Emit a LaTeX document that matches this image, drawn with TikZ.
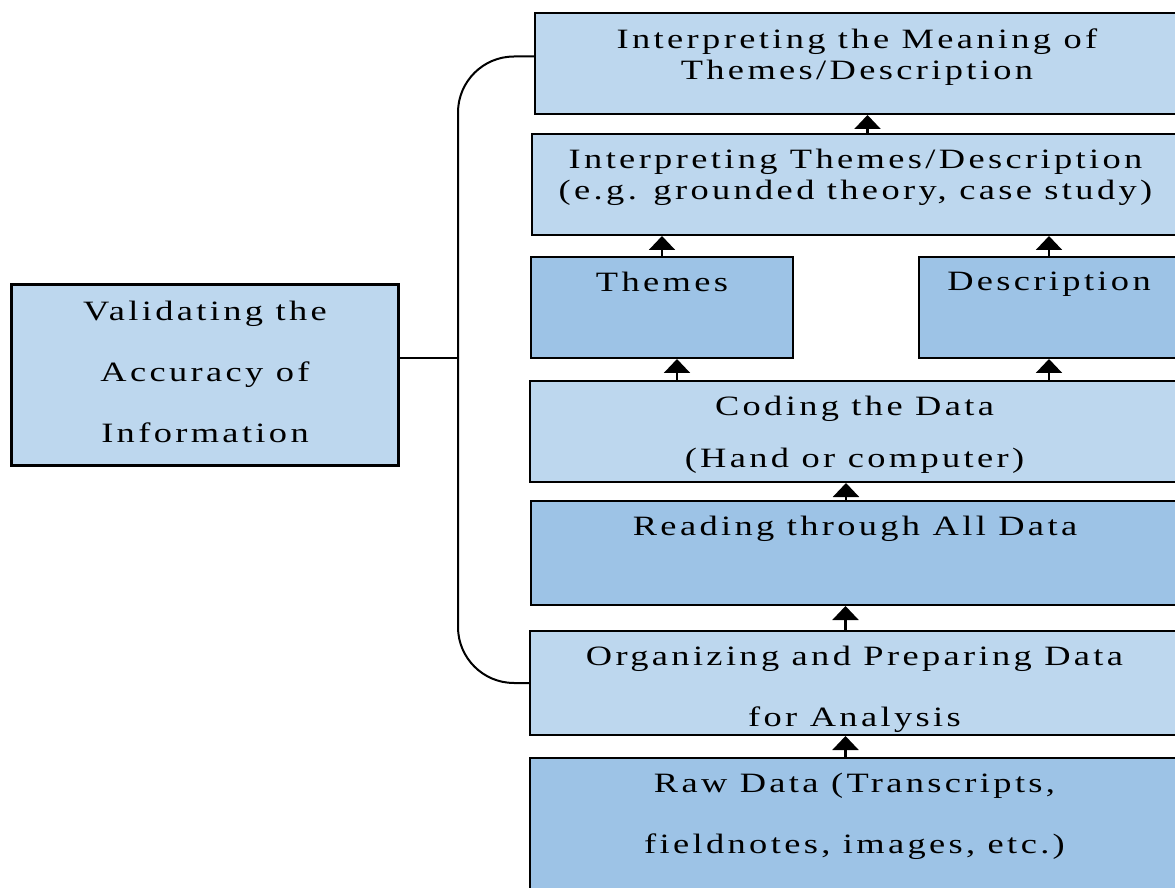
\documentclass[tikz,border=0pt]{standalone}
\usepackage{fontspec}
\setmainfont{Liberation Serif}[FakeStretch=1.3,LetterSpace=12]
\usepackage{tikz}
\usetikzlibrary{positioning,arrows.meta}
\definecolor{paleblue}{HTML}{BDD7EE}
\definecolor{midblue}{HTML}{9DC3E6}

\begin{document}
\begin{tikzpicture}[x=0.5pt,y=-0.5pt,
  box/.style={draw=black,line width=1pt,anchor=north west,inner sep=0pt,minimum height=50.5pt},
  palebox/.style={box,fill=paleblue},
  midbox/.style={box,fill=midblue},
  lbl/.style={align=center,inner sep=0pt,font=\fontsize{14}{15.5}\selectfont},
  arr/.style={-{Triangle[width=13pt,length=7pt]},line width=1.1pt},
  link/.style={line width=1pt}]
\useasboundingbox (0,0) rectangle (1175,888);

% the steps, bottom to top
\node[midbox,minimum width=324.5pt,minimum height=75pt] (raw) at (529,757) {};
\node[palebox,minimum width=324.5pt,minimum height=52pt] (organ) at (529,630) {};
\node[midbox,minimum width=324pt,minimum height=52pt] (reading) at (530,500) {};
\node[palebox,minimum width=324.5pt] (coding) at (529,380) {};
\node[midbox,minimum width=131pt] (themes) at (530,256) {};
\node[midbox,minimum width=130pt] (desc) at (918,256) {};
\node[palebox,minimum width=323.5pt] (interp) at (531,133) {};
\node[palebox,minimum width=322pt] (meaning) at (534,12) {};
\node[palebox,line width=1.5pt,minimum width=193.5pt,minimum height=90.5pt] (valid) at (10,283) {};

\node[lbl,below=8pt of raw.north] (rawtxt) {Raw Data (Transcripts,\\[15pt]fieldnotes, images, etc.)};
\node[lbl,below=8pt of organ.north] (organtxt) {Organizing and Preparing Data\\[15pt]for Analysis};
\node[lbl,below=8pt of reading.north] (readingtxt) {Reading through All Data};
\node[lbl,below=8pt of coding.north] (codingtxt) {Coding the Data\\[10.5pt](Hand or computer)};
\node[lbl,below=8pt of themes.north] (themestxt) {Themes};
\node[lbl,below=8pt of desc.north] (desctxt) {Description};
\node[lbl,below=8pt of interp.north] (interptxt) {Interpreting Themes/Description\\(e.g. grounded theory, case study)};
\node[lbl,below=8pt of meaning.north] (meaningtxt) {Interpreting the Meaning of\\Themes/Description};
\node[lbl,below=9pt of valid.north] (validtxt) {Validating the\\[15pt]Accuracy of\\[15pt]Information};

% upward arrows
\draw[arr] ([xshift=-4.5pt]raw.north) -- ([xshift=-4.5pt]raw.north |- organ.south);
\draw[arr] ([xshift=-4.5pt]organ.north) -- ([xshift=-4.5pt]organ.north |- reading.south);
\draw[arr] ([xshift=-4.5pt]reading.north) -- ([xshift=-4.5pt]reading.north |- coding.south);
\draw[arr] ([xshift=7.5pt]themes.south |- coding.north) -- ([xshift=7.5pt]themes.south);
\draw[arr] (desc.south |- coding.north) -- (desc.south);
\draw[arr] (themes.north) -- (themes.north |- interp.south);
\draw[arr] (desc.north) -- (desc.north |- interp.south);
\draw[arr] ([xshift=6pt]interp.north) -- ([xshift=6pt]interp.north |- meaning.south);

% bracket back to validation
\coordinate (spine) at (458,358);
\draw[link,rounded corners=28pt] ([yshift=3.5pt]meaning.west) -| (spine) |- (organ.west);
\draw[link,line width=0.8pt] (valid.east |- spine) -- (spine);

\end{tikzpicture}
\end{document}
